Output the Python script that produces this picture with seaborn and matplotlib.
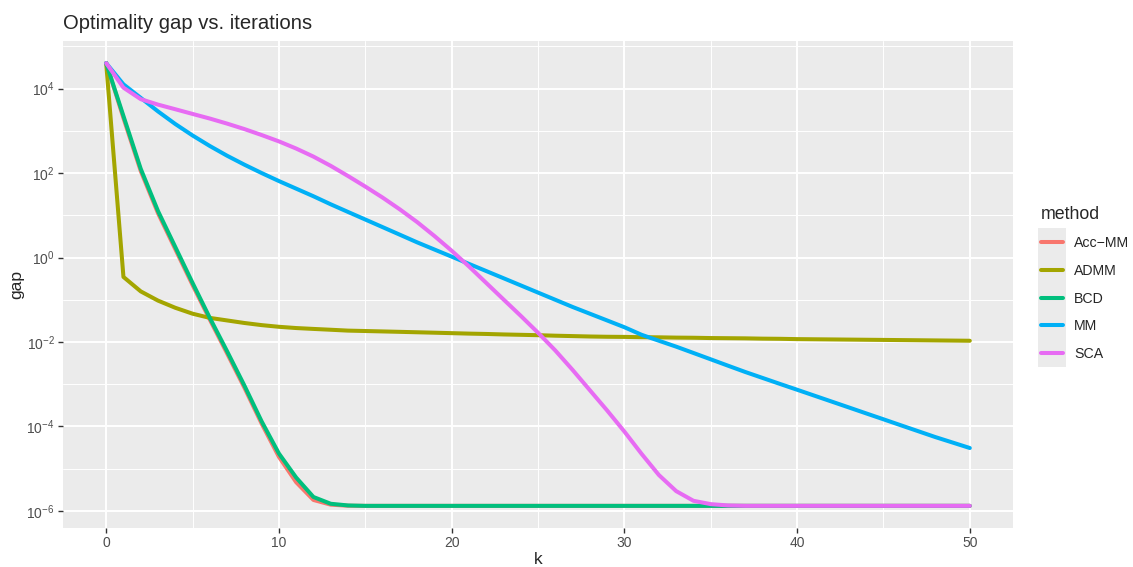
import math
import matplotlib
matplotlib.use("Agg")
import matplotlib.pyplot as plt
import seaborn as sns
import pandas as pd
from matplotlib.ticker import FixedLocator, FuncFormatter, NullFormatter
from matplotlib.patches import Rectangle

#%% Data

iterations = list(range(51))

gap_accmm = [4.0e4, 2.0e3, 112, 11.2, 1.58, 0.224, 0.0339, 5.37e-3, 8.32e-4, 1.17e-4,
             1.91e-5, 4.79e-6, 1.82e-6, 1.41e-6, 1.33e-6, 1.32e-6, 1.32e-6, 1.32e-6, 1.32e-6, 1.32e-6,
             1.32e-6, 1.32e-6, 1.32e-6, 1.32e-6, 1.32e-6, 1.32e-6, 1.32e-6, 1.32e-6, 1.32e-6, 1.32e-6,
             1.32e-6, 1.32e-6, 1.32e-6, 1.32e-6, 1.32e-6, 1.32e-6, 1.32e-6, 1.32e-6, 1.32e-6, 1.32e-6,
             1.32e-6, 1.32e-6, 1.32e-6, 1.32e-6, 1.32e-6, 1.32e-6, 1.32e-6, 1.32e-6, 1.32e-6, 1.32e-6,
             1.32e-6]

gap_admm = [4.0e4, 0.347, 0.158, 0.0955, 0.0646, 0.0468, 0.0372, 0.0324, 0.0282, 0.0251,
            0.0229, 0.0214, 0.0204, 0.0195, 0.0186, 0.0182, 0.0178, 0.0174, 0.0170, 0.0166,
            0.0162, 0.0158, 0.0155, 0.0151, 0.0148, 0.0145, 0.0141, 0.0138, 0.0135, 0.0133,
            0.0132, 0.0130, 0.0129, 0.0127, 0.0126, 0.0124, 0.0123, 0.0122, 0.0120, 0.0119,
            0.0117, 0.0116, 0.0115, 0.0114, 0.0113, 0.0112, 0.0111, 0.0110, 0.0109, 0.0108,
            0.0107]

gap_bcd = [4.0e4, 2.24e3, 126, 12.6, 1.78, 0.251, 0.0372, 6.03e-3, 9.33e-4, 1.32e-4,
           2.29e-5, 6.17e-6, 2.14e-6, 1.48e-6, 1.35e-6, 1.32e-6, 1.32e-6, 1.32e-6, 1.32e-6, 1.32e-6,
           1.32e-6, 1.32e-6, 1.32e-6, 1.32e-6, 1.32e-6, 1.32e-6, 1.32e-6, 1.32e-6, 1.32e-6, 1.32e-6,
           1.32e-6, 1.32e-6, 1.32e-6, 1.32e-6, 1.32e-6, 1.32e-6, 1.32e-6, 1.32e-6, 1.32e-6, 1.32e-6,
           1.32e-6, 1.32e-6, 1.32e-6, 1.32e-6, 1.32e-6, 1.32e-6, 1.32e-6, 1.32e-6, 1.32e-6, 1.32e-6,
           1.32e-6]

gap_mm = [4.0e4, 1.26e4, 6.03e3, 2.88e3, 1.45e3, 776, 437, 257, 158, 100,
          64.6, 42.7, 28.2, 18.2, 12.0, 7.94, 5.25, 3.47, 2.29, 1.55,
          1.05, 0.708, 0.479, 0.324, 0.219, 0.148, 0.100, 0.0676, 0.0468, 0.0324,
          0.0224, 0.0148, 0.0107, 7.76e-3, 5.50e-3, 3.89e-3, 2.75e-3, 1.95e-3, 1.41e-3, 1.02e-3,
          7.41e-4, 5.37e-4, 3.89e-4, 2.82e-4, 2.04e-4, 1.48e-4, 1.07e-4, 7.76e-5, 5.62e-5, 4.17e-5,
          3.09e-5]

gap_sca = [4.0e4, 1.05e4, 5.62e3, 4.17e3, 3.24e3, 2.51e3, 1.95e3, 1.48e3, 1.10e3, 794,
           562, 380, 245, 148, 85.1, 47.9, 26.3, 13.8, 6.92, 3.24,
           1.45, 0.617, 0.251, 0.102, 0.0417, 0.0166, 6.31e-3, 2.19e-3, 7.24e-4, 2.40e-4,
           7.59e-5, 2.24e-5, 7.08e-6, 2.95e-6, 1.74e-6, 1.45e-6, 1.35e-6, 1.32e-6, 1.32e-6, 1.32e-6,
           1.32e-6, 1.32e-6, 1.32e-6, 1.32e-6, 1.32e-6, 1.32e-6, 1.32e-6, 1.32e-6, 1.32e-6, 1.32e-6,
           1.32e-6]

methods = ["Acc\u2212MM", "ADMM", "BCD", "MM", "SCA"]
colors = ["#F8766D", "#A3A500", "#00BF7D", "#00B0F6", "#E76BF3"]

y_major = [1e-6, 1e-4, 1e-2, 1e0, 1e2, 1e4]
y_minor = [1e-5, 1e-3, 1e-1, 1e1, 1e3, 1e5]
x_major = [0, 10, 20, 30, 40, 50]
x_minor = [5, 15, 25, 35, 45]

#%% Long table

df = pd.concat([
    pd.DataFrame({"k": iterations, "gap": g, "method": m})
    for m, g in zip(methods, [gap_accmm, gap_admm, gap_bcd, gap_mm, gap_sca])
])

#%% Style (ggplot-ish grey theme)

sns.set_theme(style="darkgrid", rc={
    "axes.facecolor": "#EBEBEB",
    "grid.color": "white",
    "axes.edgecolor": "none",
    "xtick.color": "#333333",
    "ytick.color": "#333333",
    "xtick.labelcolor": "#4D4D4D",
    "ytick.labelcolor": "#4D4D4D",
})
plt.rcParams["font.family"] = ["Liberation Sans", "DejaVu Sans"]

fig = plt.figure(figsize=(11.33, 5.67), dpi=100)
ax = fig.add_axes([63 / 1133, 1 - 528 / 567, 950 / 1133, 487 / 567])

sns.lineplot(data=df, x="k", y="gap", hue="method", hue_order=methods,
             palette=colors, linewidth=2.9, ax=ax)
ax.set_yscale("log")
ax.margins(x=0.05, y=0.05)
ax.autoscale_view()

# ticks + grid
ax.yaxis.set_major_locator(FixedLocator(y_major))
ax.yaxis.set_minor_locator(FixedLocator(y_minor))
ax.yaxis.set_major_formatter(FuncFormatter(lambda v, p: r"$\mathdefault{10^{%d}}$" % round(math.log10(v))))
ax.yaxis.set_minor_formatter(NullFormatter())
ax.xaxis.set_major_locator(FixedLocator(x_major))
ax.xaxis.set_minor_locator(FixedLocator(x_minor))
ax.grid(which="major", color="white", linewidth=1.4)
ax.grid(which="minor", color="white", linewidth=0.7)
ax.tick_params(which="major", length=3.6, width=1.0, labelsize=10, pad=2.4,
               bottom=True, left=True)
ax.tick_params(which="minor", length=0)

ax.set_xlabel("k", fontsize=12.6)
ax.set_ylabel("gap", fontsize=12.6)
ax.xaxis.set_label_coords(0.5, -(552 - 528) / 487)
ax.yaxis.set_label_coords((24 - 63) / 950, 0.5)

fig.text(63 / 1133, 1 - 29 / 567, "Optimality gap vs. iterations",
         fontsize=14.6, ha="left", va="baseline")

# legend
handles, labels = ax.get_legend_handles_labels()
ax.get_legend().remove()
for h in handles:
    h.set_linewidth(2.9)
fs = 10.2 * 100 / 72
fig.patches.append(Rectangle((1038 / 1133, 1 - 367 / 567), 28 / 1133, 139 / 567,
                             transform=fig.transFigure, facecolor="#EBEBEB",
                             edgecolor="none", zorder=1))
fig.legend(handles, labels, title="method", loc="upper left",
           bbox_to_anchor=((1040 - 1.2 * fs) / 1133, 1 - (205 - 1.2 * fs) / 567),
           frameon=False, fontsize=10.2, title_fontsize=12.8, borderpad=1.25,
           handlelength=1.55, handletextpad=0.8, labelspacing=0.96,
           alignment="left", borderaxespad=0)

fig.savefig("out.png", dpi=100)
